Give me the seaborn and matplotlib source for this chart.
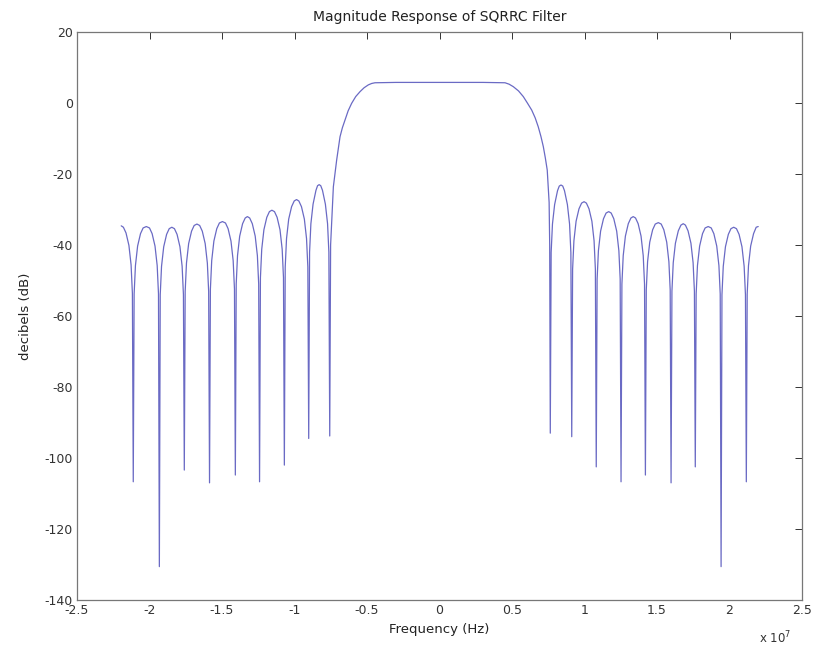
import numpy as np
import pandas as pd
import matplotlib
matplotlib.use("Agg")
import matplotlib.pyplot as plt
from matplotlib.ticker import FuncFormatter
import seaborn as sns

# Frequency in MHz, magnitude in dB
freq_mhz = [
    # left partial lobe
    -21.95, -21.80, -21.62, -21.42, -21.27, -21.18, -21.12,
    # L1
    -21.06, -20.97, -20.82, -20.62, -20.44, -20.22, -20.00, -19.82, -19.62, -19.47, -19.38, -19.32,
    # L2
    -19.26, -19.17, -19.02, -18.82, -18.64, -18.46, -18.28, -18.10, -17.90, -17.75, -17.66, -17.60,
    # L3
    -17.54, -17.45, -17.30, -17.10, -16.92, -16.73, -16.54, -16.36, -16.16, -16.01, -15.92, -15.86,
    # L4
    -15.80, -15.71, -15.56, -15.36, -15.18, -14.97, -14.76, -14.58, -14.38, -14.23, -14.14, -14.08,
    # L5
    -14.02, -13.93, -13.78, -13.58, -13.40, -13.25, -13.09, -12.91, -12.71, -12.56, -12.47, -12.41,
    # L6
    -12.35, -12.26, -12.11, -11.91, -11.73, -11.56, -11.38, -11.20, -11.00, -10.85, -10.76, -10.70,
    # L7
    -10.64, -10.55, -10.40, -10.20, -10.02, -9.86, -9.70, -9.52, -9.32, -9.17, -9.08, -9.02,
    # L8
    -8.96, -8.87, -8.72, -8.52, -8.41, -8.30, -8.19, -8.07, -7.87, -7.72, -7.63, -7.57,
    # main lobe
    -7.51, -7.43, -7.32, -7.20, -7.09, -6.86, -6.70, -6.52, -6.30, -6.06, -5.78, -5.48,
    -5.20, -4.91, -4.68, -4.45, -3.0, 0.0, 3.0,
    4.52, 4.80, 5.09, 5.45, 5.78, 6.06, 6.36, 6.60, 6.81, 7.00, 7.16, 7.30, 7.43,
    7.56, 7.60, 7.64,
    # R1
    7.70, 7.79, 7.94, 8.14, 8.26, 8.38, 8.50, 8.62, 8.82, 8.97, 9.06, 9.12,
    # R2
    9.18, 9.27, 9.42, 9.62, 9.80, 9.97, 10.13, 10.31, 10.51, 10.66, 10.75, 10.81,
    # R3
    10.87, 10.96, 11.11, 11.31, 11.49, 11.67, 11.84, 12.02, 12.22, 12.37, 12.46, 12.52,
    # R4
    12.58, 12.67, 12.82, 13.02, 13.20, 13.36, 13.52, 13.70, 13.90, 14.05, 14.14, 14.20,
    # R5
    14.26, 14.35, 14.50, 14.70, 14.88, 15.09, 15.29, 15.47, 15.67, 15.82, 15.91, 15.97,
    # R6
    16.03, 16.12, 16.27, 16.47, 16.65, 16.81, 16.96, 17.14, 17.34, 17.49, 17.58, 17.64,
    # R7
    17.70, 17.79, 17.94, 18.14, 18.32, 18.53, 18.74, 18.92, 19.12, 19.27, 19.36, 19.42,
    # R8
    19.48, 19.57, 19.72, 19.92, 20.10, 20.29, 20.48, 20.66, 20.86, 21.01, 21.10, 21.16,
    # right partial lobe
    21.22, 21.31, 21.46, 21.66, 21.84, 21.98,
]

mag_db = [
    -34.6, -35.0, -36.6, -40.1, -45.6, -53.6, -106.7,
    -53.8, -45.8, -40.3, -36.8, -35.2, -34.8, -35.2, -36.8, -40.3, -45.8, -53.8, -130.6,
    -54.0, -46.0, -40.5, -37.0, -35.4, -35.0, -35.4, -37.0, -40.5, -46.0, -54.0, -103.4,
    -53.1, -45.1, -39.6, -36.1, -34.5, -34.1, -34.5, -36.1, -39.6, -45.1, -53.1, -107.0,
    -52.4, -44.4, -38.9, -35.4, -33.8, -33.4, -33.8, -35.4, -38.9, -44.4, -52.4, -104.8,
    -51.0, -43.0, -37.5, -34.0, -32.4, -32.0, -32.4, -34.0, -37.5, -43.0, -51.0, -106.7,
    -49.2, -41.2, -35.7, -32.2, -30.6, -30.2, -30.6, -32.2, -35.7, -41.2, -49.2, -102.0,
    -46.2, -38.2, -32.7, -29.2, -27.6, -27.2, -27.6, -29.2, -32.7, -38.2, -46.2, -94.5,
    -42.0, -34.0, -28.5, -24.6, -23.3, -23.0, -23.3, -24.6, -28.5, -34.0, -42.0, -93.8,
    -40.0, -33.0, -23.6, -19.5, -16.0, -9.5, -7.0, -4.8, -2.2, -0.1, 1.8, 3.2,
    4.3, 5.1, 5.5, 5.7, 5.8, 5.8, 5.8,
    5.7, 5.3, 4.6, 3.4, 1.8, 0.0, -2.0, -4.2, -6.7, -9.5, -12.3, -15.5, -18.9,
    -28.0, -40.0, -93.0,
    -42.1, -34.1, -28.6, -24.7, -23.4, -23.1, -23.4, -24.7, -28.6, -34.1, -42.1, -94.0,
    -46.8, -38.8, -33.3, -29.8, -28.2, -27.8, -28.2, -29.8, -33.3, -38.8, -46.8, -102.5,
    -49.6, -41.6, -36.1, -32.6, -31.0, -30.6, -31.0, -32.6, -36.1, -41.6, -49.6, -106.7,
    -51.0, -43.0, -37.5, -34.0, -32.4, -32.0, -32.4, -34.0, -37.5, -43.0, -51.0, -104.8,
    -52.7, -44.7, -39.2, -35.7, -34.1, -33.7, -34.1, -35.7, -39.2, -44.7, -52.7, -107.0,
    -53.0, -45.0, -39.5, -36.0, -34.4, -34.0, -34.4, -36.0, -39.5, -45.0, -53.0, -102.5,
    -53.8, -45.8, -40.3, -36.8, -35.2, -34.8, -35.2, -36.8, -40.3, -45.8, -53.8, -130.6,
    -54.0, -46.0, -40.5, -37.0, -35.4, -35.0, -35.4, -37.0, -40.5, -46.0, -54.0, -106.7,
    -53.8, -45.8, -40.3, -36.8, -35.0, -34.8,
]

x_ticks = [-2.5, -2, -1.5, -1, -0.5, 0, 0.5, 1, 1.5, 2, 2.5]   # x 10^7 Hz
y_ticks = [-140, -120, -100, -80, -60, -40, -20, 0, 20]

df = pd.DataFrame({"freq": np.array(freq_mhz) * 1e6, "mag": mag_db})

sns.set_style("white")
plt.rcParams["font.family"] = ["DejaVu Sans"]

fig = plt.figure(figsize=(8.14, 6.5), dpi=100)
ax = fig.add_axes([77 / 814, 1 - 600 / 650, 725 / 814, 568 / 650])

sns.lineplot(data=df, x="freq", y="mag", ax=ax, sort=False, estimator=None,
             color="#6a6ac4", linewidth=0.9)

ax.set_xlim(-2.5e7, 2.5e7)
ax.set_ylim(-140, 20)
ax.set_xticks([t * 1e7 for t in x_ticks])
ax.set_yticks(y_ticks)
ax.xaxis.set_major_formatter(FuncFormatter(lambda v, p: f"{v / 1e7:g}"))
ax.yaxis.set_major_formatter(FuncFormatter(lambda v, p: f"{v:g}"))
ax.tick_params(direction="in", length=5, width=0.7, top=True, right=True,
               labelsize=9, colors="#333333", pad=3)
for s in ax.spines.values():
    s.set_color("#777777")
    s.set_linewidth(0.9)

ax.set_title("Magnitude Response of SQRRC Filter", fontsize=10, pad=8,
             color="#222222")
ax.set_xlabel("Frequency (Hz)", fontsize=9.5, labelpad=4, color="#222222")
ax.set_ylabel("decibels (dB)", fontsize=9.5, labelpad=9, color="#222222")
ax.text(0.985, -0.052, r"x $10^7$", transform=ax.transAxes, ha="right",
        va="top", fontsize=8.5, color="#333333")

fig.savefig("out.png", dpi=100)
